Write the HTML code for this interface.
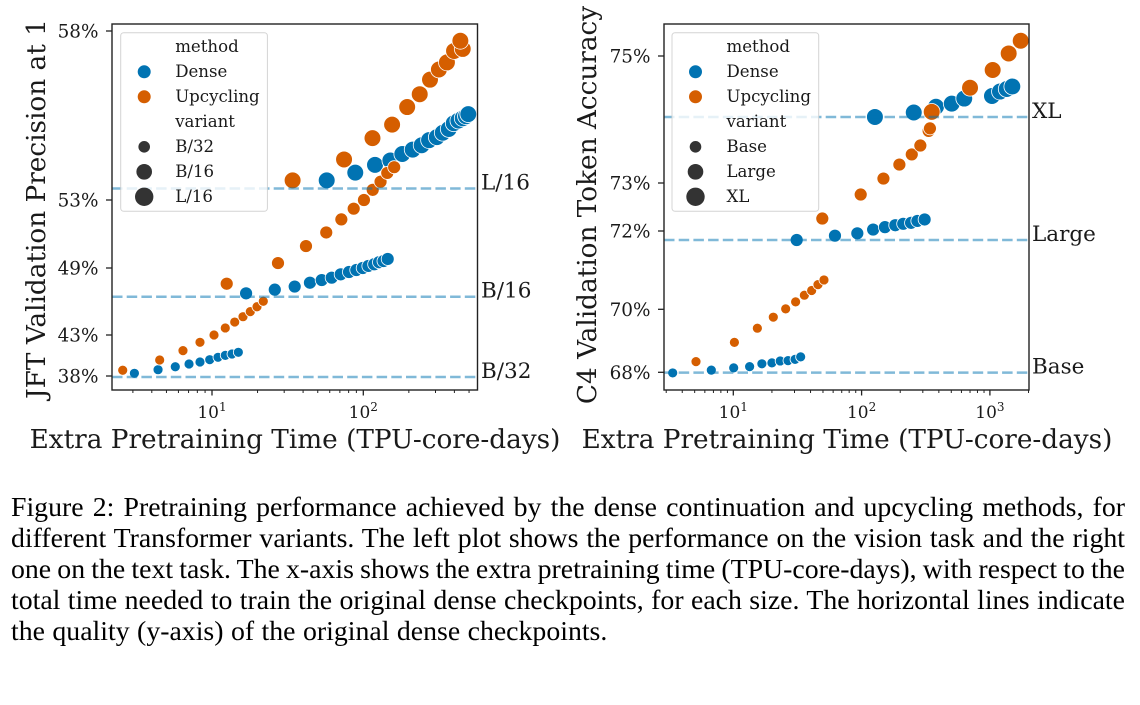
<!DOCTYPE html>
<html lang="en">
<head>
<meta charset="utf-8">
<title>Figure 2: Pretraining performance</title>
<style>
html,body{margin:0;padding:0;background:#fff;}
#page{position:relative;width:1140px;height:705px;overflow:hidden;background:#fff;}
svg{position:absolute;left:0;top:0;}
svg text{font-family:"DejaVu Serif",serif;fill:#1a1a1a;}
.cap{position:absolute;left:11px;width:1114px;font-family:"Liberation Serif",serif;font-size:27.8px;line-height:30px;height:30px;color:#000;white-space:nowrap;text-align:justify;text-align-last:justify;}
.cap.last{text-align:left;text-align-last:left;word-spacing:0.5px;}
</style>
</head>
<body>
<div id="page">
<svg id="chart" width="1140" height="480" viewBox="0 0 1140 480" xmlns="http://www.w3.org/2000/svg"></svg>
<div class="cap" style="top:493px">Figure 2: Pretraining performance achieved by the dense continuation and upcycling methods, for</div>
<div class="cap" style="top:524px">different Transformer variants. The left plot shows the performance on the vision task and the right</div>
<div class="cap" style="top:555px;word-spacing:-0.85px">one on the text task. The x-axis shows the extra pretraining time (TPU-core-days), with respect to the</div>
<div class="cap" style="top:585.5px">total time needed to train the original dense checkpoints, for each size. The horizontal lines indicate</div>
<div class="cap last" style="top:616.5px">the quality (y-axis) of the original dense checkpoints.</div>
</div>
<script>
/* ---------- left chart data (vision task) ---------- */
const leftXTickExponents = [1, 2];
const leftXMinorTicks = [3,4,5,6,7,8,9,20,30,40,50,60,70,80,90,200,300,400,500];
const leftYTicks = [38, 43, 49, 53, 58];
const leftYTickLabels = ['38%', '43%', '49%', '53%', '58%'];
const leftBaselineNames = ['B/32', 'B/16', 'L/16'];
const leftBaselineValues = [37.88, 46.43, 53.34];

const jftDenseB32X = [3.07,4.40,5.72,7.05,8.33,9.66,10.96,12.24,13.56,14.93];
const jftDenseB32Y = [38.33,38.77,39.13,39.46,39.71,39.99,40.28,40.52,40.68,40.89];
const jftDenseB16X = [16.8,26,35.2,44.4,53.1,61.8,70.9,80.4,89.9,99.1,108,118,127,136,145];
const jftDenseB16Y = [46.73,47.06,47.34,47.68,47.92,48.13,48.43,48.64,48.82,49.0,49.12,49.22,49.34,49.41,49.53];
const jftDenseL16X = [57.3,88.5,119.5,151,181,212,243,272,306,335,367,396,425,454,477,494];
const jftDenseL16Y = [53.58,53.81,54.04,54.17,54.36,54.49,54.62,54.77,54.86,54.99,55.10,55.27,55.35,55.42,55.48,55.54];
const jftUpB32X = [2.57,4.51,6.43,8.33,10.31,12.24,14.13,16.03,17.91,19.84,21.83];
const jftUpB32Y = [38.70,39.95,41.09,42.11,43.0,43.63,44.16,44.64,45.09,45.53,46.02];
const jftUpB16X = [12.51,27.3,41.8,56.9,71.6,86.4,101,115.4,130,144,160];
const jftUpB16Y = [47.59,49.29,50.29,51.09,51.86,52.49,53.0,53.30,53.54,53.80,53.97];
const jftUpL16X = [34.1,74.6,115,155,195,236,276,316,357,398,454,438];
const jftUpL16Y = [53.58,54.20,54.83,55.23,55.75,56.13,56.56,56.86,57.07,57.41,57.47,57.71];

/* ---------- right chart data (text task) ---------- */
const rightXTickExponents = [1, 2, 3];
const rightXMinorTicks = [3,4,5,6,7,8,9,20,30,40,50,60,70,80,90,200,300,400,500,600,700,800,900,2000];
const rightYTicks = [68, 70, 72, 73, 75];
const rightYTickLabels = ['68%', '70%', '72%', '73%', '75%'];
const rightBaselineNames = ['Base', 'Large', 'XL'];
const rightBaselineValues = [67.99, 71.77, 74.04];

const c4DenseBaseX = [3.37,6.74,10.07,13.4,16.7,20.0,23.2,26.7,30.3,33.5];
const c4DenseBaseY = [67.98,68.07,68.14,68.18,68.27,68.30,68.36,68.37,68.41,68.49];
const c4DenseLargeX = [31.2,62,92.6,123,152,183,211,243,272,310];
const c4DenseLargeY = [71.77,71.88,71.94,72.03,72.08,72.12,72.15,72.17,72.21,72.24];
const c4DenseXLX = [127,255,380,504,631,1038,1198,1352,1495];
const c4DenseXLY = [74.04,74.11,74.20,74.25,74.33,74.37,74.44,74.48,74.52];
const c4UpBaseX = [5.12,10.2,15.4,20.5,25.6,30.6,35.8,40.8,45.7,50.9];
const c4UpBaseY = [68.34,68.95,69.40,69.75,70.01,70.19,70.36,70.48,70.63,70.75];
const c4UpLargeX = [49.4,98.4,148,197,246,287,333,341];
const c4UpLargeY = [72.26,72.76,73.07,73.29,73.45,73.59,73.82,73.86];
const c4UpXLX = [352,700,1051,1401,1738];
const c4UpXLY = [74.12,74.50,74.78,75.04,75.24];

/* ---------- drawing ---------- */
const SVG_NS = 'http://www.w3.org/2000/svg';
const root = document.getElementById('chart');
const DENSE = '#0173b2';
const UP = '#d55e00';

function make(tag, parent) {
  const el = document.createElementNS(SVG_NS, tag);
  parent.appendChild(el);
  return el;
}

/* maps a value through axis anchors, extending the outer segments */
function interpolate(v, dom, rng) {
  let i = 0;
  while (i < dom.length - 2 && v > dom[i + 1]) i++;
  return rng[i] + (v - dom[i]) * (rng[i + 1] - rng[i]) / (dom[i + 1] - dom[i]);
}

function leftXScale(v) { return 212 + 151.3 * (Math.log10(v) - 1); }
function leftYScale(v) { return interpolate(v, [38,43,49,53,58], [376,335,268,200,31]); }
function rightXScale(v) { return 733.3 + 128.3 * (Math.log10(v) - 1); }
function rightYScale(v) { return interpolate(v, [68,70,72,73,75], [372.3,309.3,231,183,56]); }

function drawSeries(group, xs, ys, xScale, yScale, color, radius, name) {
  const g = make('g', group);
  
  
  xs.forEach(function (x, i) {
    const c = make('circle', g);
    c.setAttribute('cx', xScale(x).toFixed(2));
    c.setAttribute('cy', yScale(ys[i]).toFixed(2));
    c.setAttribute('r', radius);
    c.setAttribute('fill', color);
    c.setAttribute('stroke', '#fff');
    c.setAttribute('stroke-width', '0.8');
    
    
  });
}

function drawBaselines(group, names, values, yScale, x0, x1, labelX) {
  names.forEach(function (n, i) {
    const y = yScale(values[i]);
    const line = make('line', group);
    line.setAttribute('x1', x0);
    line.setAttribute('x2', x1);
    line.setAttribute('y1', y);
    line.setAttribute('y2', y);
    line.setAttribute('stroke', DENSE);
    line.setAttribute('stroke-opacity', '0.5');
    line.setAttribute('stroke-width', '2.5');
    line.setAttribute('stroke-dasharray', '10.5 4.2');
    
    
    const t = make('text', group);
    t.setAttribute('x', labelX);
    t.setAttribute('y', y + 1);
    t.setAttribute('font-size', '21.5');
    t.textContent = n;
    
    
  });
}

function drawAxes(group, box, xScale, yScale, xExps, xMinor, yTicks, yLabels) {
  xMinor.forEach(function (v) {
    const px = xScale(v);
    if (px > box.r + 0.5 || px < box.l) return;
    const tick = make('line', group);
    tick.setAttribute('x1', px);
    tick.setAttribute('x2', px);
    tick.setAttribute('y1', box.b);
    tick.setAttribute('y2', box.b + 3);
    tick.setAttribute('stroke', '#222');
    tick.setAttribute('stroke-width', '1');
    
    
  });
  xExps.forEach(function (e) {
    const px = xScale(Math.pow(10, e));
    const tick = make('line', group);
    tick.setAttribute('x1', px);
    tick.setAttribute('x2', px);
    tick.setAttribute('y1', box.b);
    tick.setAttribute('y2', box.b + 5.5);
    tick.setAttribute('stroke', '#222');
    tick.setAttribute('stroke-width', '1.3');
    
    
    const t = make('text', group);
    t.setAttribute('x', px);
    t.setAttribute('y', box.b + 28);
    t.setAttribute('font-size', '17');
    t.setAttribute('text-anchor', 'middle');
    
    
    t.appendChild(document.createTextNode('10'));
    const sup = make('tspan', t);
    sup.setAttribute('dy', '-7');
    sup.setAttribute('font-size', '12');
    sup.textContent = String(e);
  });
  yTicks.forEach(function (v, i) {
    const py = yScale(v);
    const tick = make('line', group);
    tick.setAttribute('x1', box.l - 6);
    tick.setAttribute('x2', box.l);
    tick.setAttribute('y1', py);
    tick.setAttribute('y2', py);
    tick.setAttribute('stroke', '#222');
    tick.setAttribute('stroke-width', '1.3');
    
    
    const t = make('text', group);
    t.setAttribute('x', box.l - 13.5);
    t.setAttribute('y', py + 6.5);
    t.setAttribute('font-size', '18.4');
    t.setAttribute('text-anchor', 'end');
    t.textContent = yLabels[i];
    
    
  });
  const frame = make('rect', group);
  frame.setAttribute('x', box.l);
  frame.setAttribute('y', box.t);
  frame.setAttribute('width', box.r - box.l);
  frame.setAttribute('height', box.b - box.t);
  frame.setAttribute('fill', 'none');
  frame.setAttribute('stroke', '#222');
  frame.setAttribute('stroke-width', '1.4');
  
  
}

function drawTitles(group, xTitle, xCenter, yTitle, yBase, yCenter) {
  const xt = make('text', group);
  xt.setAttribute('x', xCenter);
  xt.setAttribute('y', 448);
  xt.setAttribute('font-size', '26.3');
  xt.setAttribute('text-anchor', 'middle');
  xt.textContent = xTitle;
  
  
  const yt = make('text', group);
  yt.setAttribute('transform', 'translate(' + yBase + ',' + yCenter + ') rotate(-90)');
  yt.setAttribute('font-size', '26.3');
  yt.setAttribute('text-anchor', 'middle');
  yt.textContent = yTitle;
  
  
}

function drawLegend(group, x, labels) {
  const g = make('g', group);
  
  
  const box = make('rect', g);
  box.setAttribute('x', x);
  box.setAttribute('y', 32.7);
  box.setAttribute('width', 146.7);
  box.setAttribute('height', 178.6);
  box.setAttribute('rx', 3);
  box.setAttribute('fill', '#fff');
  box.setAttribute('fill-opacity', '0.8');
  box.setAttribute('stroke', '#ccc');
  box.setAttribute('stroke-opacity', '0.85');
  box.setAttribute('stroke-width', '1');
  
  
  const colors = [null, DENSE, UP, null, '#333', '#333', '#333'];
  const radii = [0, 6.5, 6.5, 0, 5.8, 7.8, 9.2];
  labels.forEach(function (label, i) {
    const rowBase = 52 + i * 25;
    if (colors[i]) {
      const m = make('circle', g);
      m.setAttribute('cx', x + 23.5);
      m.setAttribute('cy', rowBase - 5.2);
      m.setAttribute('r', radii[i]);
      m.setAttribute('fill', colors[i]);
      
      
    }
    const t = make('text', g);
    t.setAttribute('x', x + 54.5);
    t.setAttribute('y', rowBase);
    t.setAttribute('font-size', '16.6');
    t.textContent = label;
    
    
  });
}

/* left panel */
const leftPanel = make('g', root);


drawSeries(leftPanel, jftDenseB32X, jftDenseB32Y, leftXScale, leftYScale, DENSE, 5, 'dense-b32-series');
drawSeries(leftPanel, jftDenseB16X, jftDenseB16Y, leftXScale, leftYScale, DENSE, 6.5, 'dense-b16-series');
drawSeries(leftPanel, jftDenseL16X, jftDenseL16Y, leftXScale, leftYScale, DENSE, 8.4, 'dense-l16-series');
drawSeries(leftPanel, jftUpB32X, jftUpB32Y, leftXScale, leftYScale, UP, 5, 'upcycling-b32-series');
drawSeries(leftPanel, jftUpB16X, jftUpB16Y, leftXScale, leftYScale, UP, 6.5, 'upcycling-b16-series');
drawSeries(leftPanel, jftUpL16X, jftUpL16Y, leftXScale, leftYScale, UP, 8.4, 'upcycling-l16-series');
drawBaselines(leftPanel, leftBaselineNames, leftBaselineValues, leftYScale, 112, 477.5, 481);
drawLegend(leftPanel, 120.7, ['method', 'Dense', 'Upcycling', 'variant', 'B/32', 'B/16', 'L/16']);
drawAxes(leftPanel, {l:112, r:477.5, t:24, b:390}, leftXScale, leftYScale, leftXTickExponents, leftXMinorTicks, leftYTicks, leftYTickLabels);
drawTitles(leftPanel, 'Extra Pretraining Time (TPU-core-days)', 295, 'JFT Validation Precision at 1', 45, 209);

/* right panel */
const rightPanel = make('g', root);


drawSeries(rightPanel, c4DenseBaseX, c4DenseBaseY, rightXScale, rightYScale, DENSE, 5, 'dense-base-series');
drawSeries(rightPanel, c4DenseLargeX, c4DenseLargeY, rightXScale, rightYScale, DENSE, 6.5, 'dense-large-series');
drawSeries(rightPanel, c4DenseXLX, c4DenseXLY, rightXScale, rightYScale, DENSE, 8.4, 'dense-xl-series');
drawSeries(rightPanel, c4UpBaseX, c4UpBaseY, rightXScale, rightYScale, UP, 5, 'upcycling-base-series');
drawSeries(rightPanel, c4UpLargeX, c4UpLargeY, rightXScale, rightYScale, UP, 6.5, 'upcycling-large-series');
drawSeries(rightPanel, c4UpXLX, c4UpXLY, rightXScale, rightYScale, UP, 8.4, 'upcycling-xl-series');
drawBaselines(rightPanel, rightBaselineNames, rightBaselineValues, rightYScale, 664, 1029, 1032);
drawLegend(rightPanel, 672, ['method', 'Dense', 'Upcycling', 'variant', 'Base', 'Large', 'XL']);
drawAxes(rightPanel, {l:664, r:1029, t:24, b:390}, rightXScale, rightYScale, rightXTickExponents, rightXMinorTicks, rightYTicks, rightYTickLabels);
drawTitles(rightPanel, 'Extra Pretraining Time (TPU-core-days)', 847, 'C4 Validation Token Accuracy', 596, 205);
</script>
</body>
</html>
